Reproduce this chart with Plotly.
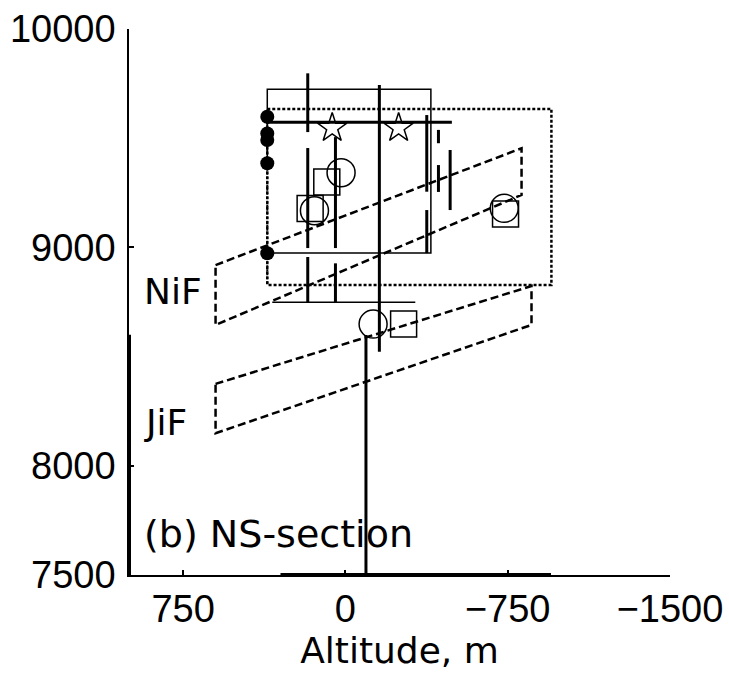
import plotly.graph_objects as go

# ---- data (metres) ----
# frontal zones drawn as closed quadrilaterals
nif_x = [600, -814, -814, 600, 600]
nif_y = [8919, 9454, 9240, 8645, 8919]
jif_x = [600, -860, -860, 600, 600]
jif_y = [8375, 8823, 8645, 8149, 8375]

# dotted observation box
dbox_x = [361, -952, -952, 361, 361]
dbox_y = [9634, 9634, 8828, 8828, 9634]

# thin solid box (open on the lower left side)
sbox_x = [361, 361, -395, -395, 361]
sbox_y = [9385, 9724, 9724, 8974, 8974]

# horizontal flight legs: (level, x_start, x_end, width)
h_levels = [9573, 8749]
h_start = [361, 338]
h_end = [-492, -323]
h_width = [3, 1.5]

# vertical profiles: x position and (top, bottom) segments
v_pos = [174, 46, -157, -95, -376, -430, -484]
v_segments = [
    [(9797, 9528), (9455, 8997), (8956, 8750)],
    [(9505, 8997), (8927, 8750)],
    [(9744, 8522)],
    [(8599, 7500)],
    [(9606, 9255), (9171, 8974)],
    [(9538, 9477), (9377, 9254)],
    [(9446, 9171)],
]

# sounding points
dot_x = [361, 361, 361, 361, 361]
dot_y = [9598, 9522, 9492, 9385, 8973]
star_x = [61, -246]
star_y = [9547, 9547]
circ_x = [20, 143, -734, -128]
circ_y = [9342, 9168, 9179, 8649]
sq_x = [86, 163, -740, -269]
sq_y = [9299, 9178, 9153, 8649]

# heavier traces along the frame
edge_left_y = [8600, 7500]
edge_bottom_x = [300, -950]

x_ticks = [750, 0, -750, -1500]
x_tick_text = ["750", "0", "\u2212750", "\u22121500"]
y_ticks = [7500, 8000, 9000, 10000]
y_tick_text = ["7500", "8000", "9000", "10000"]

fig = go.Figure()
black = "black"

def line(x, y, width=1.5, dash="solid"):
    fig.add_trace(go.Scatter(x=x, y=y, mode="lines",
                             line=dict(color=black, width=width, dash=dash),
                             hoverinfo="skip"))

line(dbox_x, dbox_y, 2.5, "3px,2px")
line(sbox_x, sbox_y, 1.5)
line(nif_x, nif_y, 2.5, "8px,4px")
line(jif_x, jif_y, 2.5, "8px,4px")

for lvl, xs, xe, w in zip(h_levels, h_start, h_end, h_width):
    line([xs, xe], [lvl, lvl], w)

for xp, segs in zip(v_pos, v_segments):
    xs, ys = [], []
    for top, bot in segs:
        xs += [xp, xp, None]
        ys += [top, bot, None]
    line(xs, ys, 3)

line([1000, 1000], edge_left_y, 4)
line(edge_bottom_x, [7500, 7500], 4)

fig.add_trace(go.Scatter(x=dot_x, y=dot_y, mode="lines+markers",
                         line=dict(color=black, width=2, dash="2px,2px"),
                         marker=dict(symbol="circle", size=14, color=black),
                         hoverinfo="skip"))
fig.add_trace(go.Scatter(x=[dot_x[-1], dot_x[-1]], y=[dot_y[-1], dbox_y[2]],
                         mode="lines",
                         line=dict(color=black, width=2, dash="2px,2px"),
                         hoverinfo="skip"))
fig.add_trace(go.Scatter(x=star_x, y=star_y, mode="markers",
                         marker=dict(symbol="star-open", size=22, color=black,
                                     line=dict(color=black, width=1.5)),
                         hoverinfo="skip"))
fig.add_trace(go.Scatter(x=sq_x, y=sq_y, mode="markers",
                         marker=dict(symbol="square-open", size=26, color=black,
                                     line=dict(color=black, width=1.5)),
                         hoverinfo="skip"))
fig.add_trace(go.Scatter(x=circ_x, y=circ_y, mode="markers",
                         marker=dict(symbol="circle-open", size=28, color=black,
                                     line=dict(color=black, width=1.5)),
                         hoverinfo="skip"))

label_font = dict(family="DejaVu Sans", size=36, color=black)
fig.add_annotation(x=940, y=8796, text="NiF", showarrow=False,
                   xanchor="left", yanchor="middle", font=label_font)
fig.add_annotation(x=940, y=8200, text="JiF", showarrow=False,
                   xanchor="left", yanchor="middle", font=label_font)
fig.add_annotation(x=940, y=7690, text="(b) NS-section", showarrow=False,
                   xanchor="left", yanchor="middle",
                   font=dict(family="DejaVu Sans", size=38, color=black))

tick_font = dict(family="Liberation Sans, Arial", size=38, color=black)
fig.update_layout(
    width=729, height=679,
    margin=dict(l=129, r=59, t=29, b=104),
    paper_bgcolor="white", plot_bgcolor="white",
    showlegend=False,
    xaxis=dict(range=[1000, -1500], tickvals=x_ticks, ticktext=x_tick_text,
               ticks="inside", ticklen=5, tickwidth=1.5, tickcolor=black,
               showline=True, linecolor=black, linewidth=1.5,
               showgrid=False, zeroline=False, tickfont=tick_font,
               automargin=False,
               title=dict(text="Altitude, m", standoff=0,
                          font=dict(family="DejaVu Sans", size=36, color=black))),
    yaxis=dict(range=[7500, 10000], tickvals=y_ticks, ticktext=y_tick_text,
               ticks="inside", ticklen=5, tickwidth=1.5, tickcolor=black,
               showline=True, linecolor=black, linewidth=1.5,
               showgrid=False, zeroline=False, tickfont=tick_font,
               automargin=False, ticklabelstandoff=4),
)

fig.write_html("out.html")
